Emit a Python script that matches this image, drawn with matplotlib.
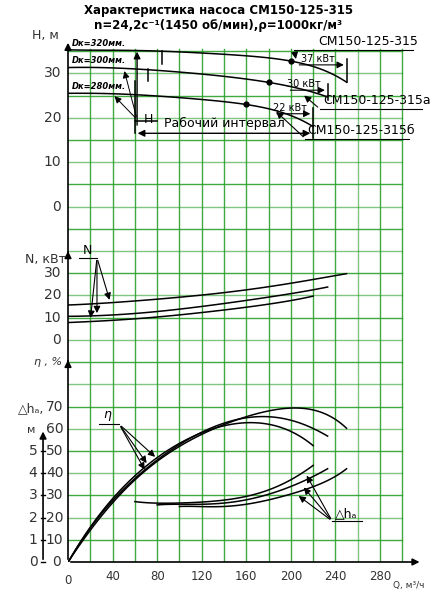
import numpy as np
import matplotlib.pyplot as plt

# --- Data ---
# head curves H(Q), m
h315_q = [0, 40, 80, 120, 160, 200, 220, 240, 250]
h315_v = [35.3, 35.2, 35.0, 34.6, 33.9, 32.8, 31.5, 29.5, 28.0]
h300_q = [0, 40, 80, 120, 160, 180, 200, 220, 233]
h300_v = [31.3, 31.2, 30.7, 29.8, 28.7, 28.0, 27.0, 25.7, 24.7]
h280_q = [0, 40, 80, 120, 160, 180, 200, 220]
h280_v = [25.5, 25.4, 24.9, 24.1, 23.0, 22.0, 20.5, 18.0]
dots_q = [200, 180, 160]
dots_h = [32.8, 28.0, 23.0]

# power N(Q), kW
n315_q = [0, 40, 80, 120, 160, 200, 250]
n315_v = [15.7, 16.8, 18.3, 20.2, 22.5, 25.5, 29.8]
n300_q = [0, 40, 80, 120, 160, 200, 233]
n300_v = [10.6, 11.2, 12.8, 15.0, 17.8, 20.8, 23.8]
n280_q = [0, 40, 80, 120, 160, 200, 220]
n280_v = [7.8, 8.8, 10.3, 12.3, 14.7, 17.7, 19.7]

# efficiency, %
e315_q = [0, 20, 40, 60, 80, 100, 120, 140, 160, 180, 200, 220, 240, 250]
e315_v = [0, 14, 27, 37, 45, 52, 57.5, 62, 65.5, 68, 69, 68.5, 64.5, 60]
e300_q = [0, 20, 40, 60, 80, 100, 120, 140, 160, 180, 200, 220, 233]
e300_v = [0, 14.5, 28, 38, 46, 52.5, 58, 62.5, 65.5, 65.5, 63.5, 60, 56.8]
e280_q = [0, 20, 40, 60, 80, 100, 120, 140, 160, 180, 200, 220]
e280_v = [0, 15, 29, 39, 47, 53, 58, 61.5, 63, 62, 58.5, 52.5]

# NPSH, m
d1_q = [60, 80, 120, 160, 180, 200, 220]
d1_v = [2.72, 2.65, 2.7, 2.95, 3.25, 3.7, 4.35]
d2_q = [80, 120, 160, 180, 200, 220, 233]
d2_v = [2.57, 2.6, 2.8, 3.05, 3.4, 3.85, 4.2]
d3_q = [100, 140, 160, 180, 200, 220, 240, 250]
d3_v = [2.5, 2.5, 2.6, 2.8, 3.05, 3.4, 3.85, 4.2]

q_ticks = [0, 40, 80, 120, 160, 200, 240, 280]
h_ticks = [0, 10, 20, 30]
n_ticks = [0, 10, 20, 30]
e_ticks = [10, 20, 30, 40, 50, 60, 70]
dh_ticks = [0, 1, 2, 3, 4, 5]

# vertical layout in grid cells (one cell = 20 m3/h wide)
H0, HS = 16, 5.0    # head: base cell, m per cell
N0, NS = 10, 10.0   # power
E0, ES = 0, 10.0    # efficiency
DHX = -22.4         # x position of the NPSH axis


def yh(v): return H0 + np.asarray(v) / HS
def yn(v): return N0 + np.asarray(v) / NS
def ye(v): return E0 + np.asarray(v) / ES


def smooth(q, v):
    xs = np.linspace(q[0], q[-1], 120)
    return xs, np.polyval(np.polyfit(q, v, min(5, len(q) - 1)), xs)


fig = plt.figure(figsize=(4.37, 6), dpi=100)
ax = fig.add_axes([68 / 437, 1 - 562 / 600, 351 / 437, 522 / 600])
ax.set_xlim(0, 315)
ax.set_ylim(0, 23.5)
ax.axis("off")

green = "#2ca02c"
for gx in range(20, 301, 20):
    ax.plot([gx, gx], [0, 23.1], color=green, lw=1, alpha=0.6 if gx == 260 else 0.9)
for gy in range(1, 24):
    ax.plot([0, 300], [gy, gy], color=green, lw=1, alpha=0.6 if gy % 2 == 0 else 0.9)

# axes with arrows
kw = dict(arrowprops=dict(arrowstyle="-|>", color="k", lw=1.2), annotation_clip=False)
ax.annotate("", xy=(0, 23.5), xytext=(0, 0), **kw)
ax.annotate("", xy=(0, yn(40)), xytext=(0, yn(38)), **kw)
ax.annotate("", xy=(0, 9.1), xytext=(0, 8.9), **kw)
ax.annotate("", xy=(318, 0), xytext=(0, 0), **kw)
ax.annotate("", xy=(DHX, 6.0), xytext=(DHX, 0), **kw)
for d in dh_ticks:
    ax.plot([DHX - 2, DHX + 2], [d, d], color="k", lw=1, clip_on=False)
    ax.text(DHX - 5, d, str(d), ha="right", va="center", fontsize=10, color="#333")

fs = 10
for v in h_ticks:
    ax.text(-6, yh(v), str(v), ha="right", va="center", fontsize=fs, color="#333")
for v in n_ticks:
    ax.text(-6, yn(v), str(v), ha="right", va="center", fontsize=fs, color="#333")
for v in e_ticks:
    ax.text(-4, ye(v), str(v), ha="right", va="center", fontsize=fs, color="#333")
ax.text(-6, 0, "0", ha="right", va="center", fontsize=fs, color="#333")
for v in q_ticks:
    ax.text(v, -0.35 if v else -0.55, str(v), ha="center", va="top", fontsize=8.5, color="#333")
ax.text(292, -0.85, "Q, м³/ч", ha="left", va="top", fontsize=6.5, color="#333")

ax.text(-20, 23.4, "Н, м", ha="center", va="bottom", fontsize=9, color="#333")
ax.text(-20, yn(40) - 0.4, "N, кВт", ha="center", va="center", fontsize=9, color="#333")
ax.text(-18, 9.0, "η , %", ha="center", va="center", fontsize=8, color="#333", style="italic")
ax.text(-33, 6.9, "△hₐ,", ha="center", va="center", fontsize=9, color="#333")
ax.text(-33, 5.95, "м", ha="center", va="center", fontsize=8, color="#333")

fig.text(0.5, 0.977, "Характеристика насоса СМ150-125-315", ha="center", fontsize=8.5, fontweight="bold")
fig.text(0.5, 0.952, "n=24,2с⁻¹(1450 об/мин),ρ=1000кг/м³", ha="center", fontsize=8.5, fontweight="bold")

lk = dict(color="k", lw=1.1)
for q, v in [(h315_q, h315_v), (h300_q, h300_v), (h280_q, h280_v)]:
    xs, ys = smooth(q, v)
    ax.plot(xs, yh(ys), **lk)
ax.plot(dots_q, yh(dots_h), "o", color="k", ms=3.5)
for q, v in [(n315_q, n315_v), (n300_q, n300_v), (n280_q, n280_v)]:
    xs, ys = smooth(q, v)
    ax.plot(xs, yn(ys), **lk)
for q, v in [(e315_q, e315_v), (e300_q, e300_v), (e280_q, e280_v)]:
    xs, ys = smooth(q, v)
    ax.plot(xs, ye(ys), **lk)
for q, v in [(d1_q, d1_v), (d2_q, d2_v), (d3_q, d3_v)]:
    xs, ys = smooth(q, v)
    ax.plot(xs, ys, **lk)

# labels on head curves
for lab, hv in [("Dк=320мм.", 35.3), ("Dк=300мм.", 31.3), ("Dк=280мм.", 25.5)]:
    ax.text(3, yh(hv) + 0.1, lab, fontsize=6, style="italic", fontweight="bold", va="bottom")

# working range markers
ax.plot([60, 60], [yh(28.3), 19.3], **lk)
ax.plot([72, 72], [yh(31.0), yh(28.3)], **lk)
ax.plot([84, 84], [yh(35.0), yh(32.2)], **lk)
ax.plot([250, 250], [yh(33.2), yh(28.0)], **lk)
ax.plot([233, 233], [yh(27.5), yh(24.0)], **lk)
ax.plot([220, 220], [yh(22.3), 19.1], **lk)
ax.annotate("", xy=(62, 23.1), xytext=(62, yh(17.7)), arrowprops=dict(arrowstyle="-|>", color="k", lw=1))
ax.annotate("", xy=(60, 19.3), xytext=(220, 19.3), arrowprops=dict(arrowstyle="<|-|>", color="k", lw=1))
ax.text(140, 19.45, "Рабочий интервал", ha="center", va="bottom", fontsize=9)
ax.text(68, yh(19.5), "Н", ha="left", va="center", fontsize=9)
ax.plot([60, 80], [yh(19.2), yh(19.2)], **lk)
for tq, th in [(40, 25.3), (50, 31.1)]:
    ax.annotate("", xy=(tq, yh(th)), xytext=(62, yh(19.6)),
                arrowprops=dict(arrowstyle="-|>", color="k", lw=0.7))

# power labels at the end of the curves
for lab, q0, q1, hv in [("37 кВт", 205, 250, 31.9), ("30 кВт", 197, 233, 26.2), ("22 кВт", 185, 220, 20.9)]:
    ax.text((q0 + q1) / 2 - 3, yh(hv) + 0.05, lab, ha="center", va="bottom", fontsize=7)
    ax.annotate("", xy=(q1, yh(hv)), xytext=(q0, yh(hv)), arrowprops=dict(arrowstyle="-|>", color="k", lw=0.8))

# model names
for lab, tx, ty, lx0, lx1, px, ph in [("СМ150-125-315", 225, yh(35.3), 203, 310, 205, 32.6),
                                      ("СМ150-125-315а", 229, yh(22.0), 226, 318, 210, 25.4),
                                      ("СМ150-125-315б", 215, yh(15.3), 213, 306, 185, 21.8)]:
    ax.text(tx, ty + 0.08, lab, ha="left", va="bottom", fontsize=9)
    ax.plot([lx0, lx1], [ty, ty], color="k", lw=0.8, clip_on=False)
    ax.annotate("", xy=(px, yh(ph)), xytext=(lx0, ty), arrowprops=dict(arrowstyle="-|>", color="k", lw=0.8))

# N pointers
ax.text(17, yn(37.2), "N", ha="center", va="bottom", fontsize=9)
ax.plot([10, 26], [yn(37), yn(37)], color="k", lw=0.8)
for tq, tv in [(20, 8.7), (26, 10.8), (38, 16.8)]:
    ax.annotate("", xy=(tq, yn(tv)), xytext=(26, yn(37)), arrowprops=dict(arrowstyle="-|>", color="k", lw=0.8))

# eta pointers
ax.text(35, 6.35, "η", ha="center", va="bottom", fontsize=9, style="italic")
ax.plot([28, 46], [6.2, 6.2], color="k", lw=0.8)
for tq, tv in [(70, 40.5), (72, 43.5), (80, 46.5)]:
    ax.annotate("", xy=(tq, ye(tv)), xytext=(46, 6.2), arrowprops=dict(arrowstyle="-|>", color="k", lw=0.8))

# NPSH pointers
ax.text(250, 1.9, "△hₐ", ha="center", va="bottom", fontsize=9)
ax.plot([237, 264], [1.85, 1.85], color="k", lw=0.8)
for tq, tv in [(213, 4.0), (210, 3.45), (205, 3.05)]:
    ax.annotate("", xy=(tq, tv), xytext=(237, 1.85), arrowprops=dict(arrowstyle="-|>", color="k", lw=0.8))

fig.savefig("out.png", dpi=100)
